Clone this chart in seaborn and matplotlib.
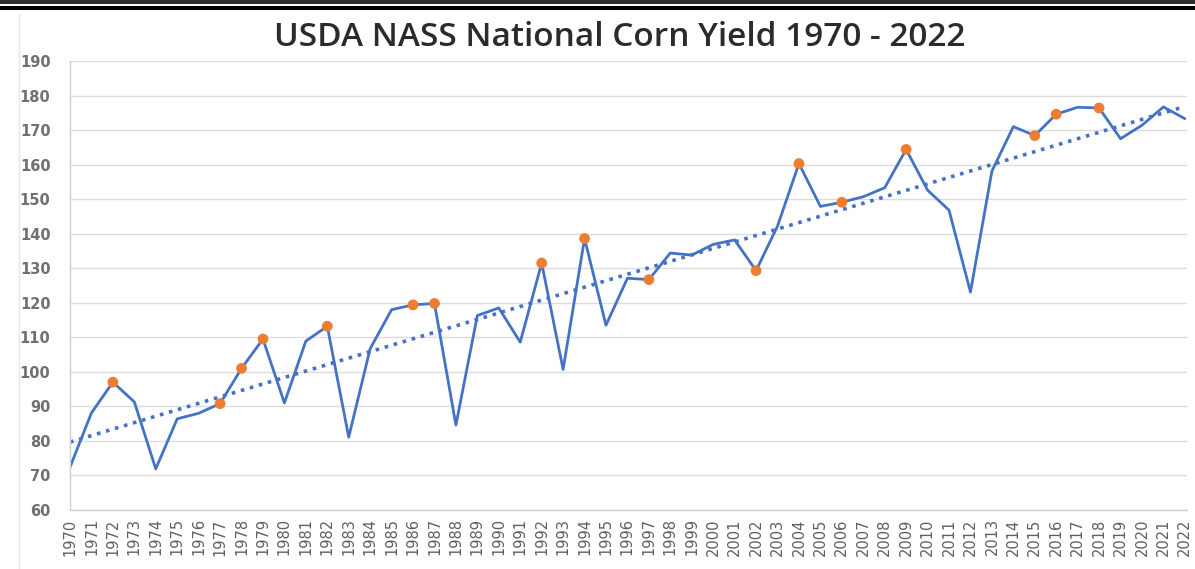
import numpy as np
import pandas as pd
import matplotlib
matplotlib.use('Agg')
import matplotlib.pyplot as plt
import seaborn as sns
from matplotlib.patches import Rectangle
from matplotlib.lines import Line2D

years = list(range(1970, 2023))
yield_bu = [72.4, 88.1, 97.0, 91.3, 71.9, 86.4, 88.0, 90.8, 101.0, 109.5,
            91.0, 108.9, 113.2, 81.1, 106.7, 118.0, 119.4, 119.8, 84.6, 116.3,
            118.5, 108.6, 131.5, 100.7, 138.6, 113.5, 127.1, 126.7, 134.4, 133.8,
            136.9, 138.2, 129.3, 142.2, 160.3, 147.9, 149.1, 150.7, 153.3, 164.4,
            152.6, 146.8, 123.1, 158.1, 171.0, 168.4, 174.6, 176.6, 176.4, 167.5,
            171.4, 176.7, 173.3]
marked_years = [1972, 1977, 1978, 1979, 1982, 1986, 1987, 1992, 1994, 1997,
                2002, 2004, 2006, 2009, 2015, 2016, 2018]

df = pd.DataFrame({'year': years, 'yield': yield_bu})
marked = df[df['year'].isin(marked_years)]

sns.set_style('white')
plt.rcParams['font.family'] = ['DejaVu Sans']

fig = plt.figure(figsize=(11.95, 5.69), dpi=100)
ax = fig.add_axes([70 / 1195, 1 - 510 / 569, 1117 / 1195, 449 / 569])

blue = '#4472C4'
orange = '#ED7D31'

sns.regplot(data=df, x='year', y='yield', ax=ax, scatter=False, ci=None,
            truncate=True,
            line_kws={'color': blue, 'linestyle': (0, (1, 1.6)), 'linewidth': 2.6})
sns.lineplot(data=df, x='year', y='yield', ax=ax, color=blue, linewidth=2.0)
sns.scatterplot(data=marked, x='year', y='yield', ax=ax, color=orange, s=60,
                edgecolor='none', zorder=5)

ax.set_xlim(1970, 2022.1)
ax.set_ylim(60, 190)
ax.set_yticks(range(60, 191, 10))
ax.set_xticks(years)
ax.set_xticklabels([str(y) for y in years], rotation=90, fontsize=10.5,
                   color='#5f5f5f')
ax.tick_params(axis='y', labelsize=10.5, labelcolor='#707070', length=0, pad=14)
ax.tick_params(axis='x', length=0, pad=6)
for lab in ax.get_yticklabels():
    lab.set_fontweight('bold')
ax.set_xlabel('')
ax.set_ylabel('')
ax.grid(axis='y', color='#dcdcdc', linewidth=1.0)
ax.set_axisbelow(True)
for side in ['top', 'right']:
    ax.spines[side].set_visible(False)
for side in ['left', 'bottom']:
    ax.spines[side].set_color('#d0d0d0')
    ax.spines[side].set_linewidth(1.0)

fig.text(620 / 1195, 1 - 37 / 569, 'USDA NASS National Corn Yield 1970 - 2022',
         ha='center', va='center', fontsize=24, color='#2b2b2b',
         fontweight='semibold', family=['Open Sans', 'DejaVu Sans'])

# page frame bits around the chart
fig.add_artist(Rectangle((0, 1 - 4 / 569), 1, 4 / 569, transform=fig.transFigure,
                         color='#2e2e2e', lw=0))
fig.add_artist(Rectangle((0, 1 - 10 / 569), 1, 4 / 569, transform=fig.transFigure,
                         color='black', lw=0))
fig.add_artist(Line2D([19 / 1195, 19 / 1195], [0, 1 - 14 / 569],
                      transform=fig.transFigure, color='#e6e6e6', lw=1))

fig.savefig('out.png', dpi=100, facecolor='white')
